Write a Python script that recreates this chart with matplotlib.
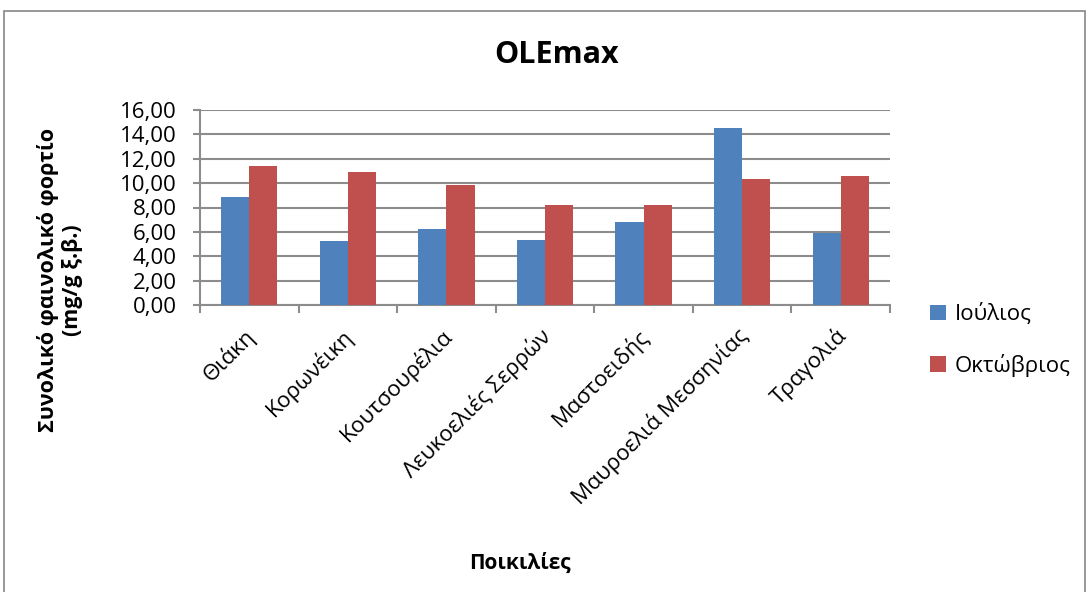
import numpy as np
import matplotlib.pyplot as plt
from matplotlib.patches import Rectangle
from matplotlib.ticker import FuncFormatter

plt.rcParams['font.family'] = ['Open Sans', 'DejaVu Sans']

varieties = ['Θιάκη', 'Κορωνέικη', 'Κουτσουρέλια', 'Λευκοελιές Σερρών',
             'Μαστοειδής', 'Μαυροελιά Μεσσηνίας', 'Τραγολιά']
july = [8.83, 5.25, 6.26, 5.33, 6.81, 14.49, 5.93]
october = [11.40, 10.89, 9.84, 8.23, 8.20, 10.31, 10.61]

fig = plt.figure(figsize=(10.9, 5.92), dpi=100)
ax = fig.add_axes([200/1090, 1 - 305/592, 690/1090, 195/592])

# outer chart frame
fig.patches.append(Rectangle((4/1090, -0.05), 1081/1090, 1 - 11/592 + 0.05,
                             transform=fig.transFigure, fill=False,
                             edgecolor='#868686', linewidth=1.2))

x = np.arange(len(varieties))
w = 0.286
ax.bar(x - w/2, july, w, color='#4F81BD', label='Ιούλιος', zorder=3)
ax.bar(x + w/2, october, w, color='#C0504D', label='Οκτώβριος', zorder=3)

ax.set_xlim(-0.5, len(varieties) - 0.5)
ax.set_ylim(0, 16)
ax.set_yticks(np.arange(0, 17, 2))
ax.yaxis.set_major_formatter(FuncFormatter(lambda v, p: f'{v:.2f}'.replace('.', ',')))
ax.grid(axis='y', color='#8c8c8c', linewidth=1.5, zorder=0)

# category ticks sit between the groups
ax.set_xticks(np.arange(-0.5, len(varieties), 1.0))
ax.set_xticklabels([])
ax.set_xticks(x - 0.06, minor=True)
ax.set_xticklabels(varieties, minor=True, rotation=45, ha='right', va='top',
                   rotation_mode='anchor', fontsize=16)
ax.tick_params(axis='x', which='minor', length=0, pad=14)
ax.tick_params(axis='x', which='major', length=6, color='#8c8c8c', width=1.5)
ax.tick_params(axis='y', length=5, color='#8c8c8c', width=1.5, labelsize=16, pad=12)

for s in ['top', 'right']:
    ax.spines[s].set_visible(False)
for s in ['left', 'bottom']:
    ax.spines[s].set_color('#8c8c8c')
    ax.spines[s].set_linewidth(1.5)

fig.text(557/1090, 1 - 55/592, 'OLEmax', ha='center', va='center',
         fontsize=22, fontweight='bold')
fig.text(60/1090, 1 - 280/592, 'Συνολικό φαινολικό φορτίο\n(mg/g ξ.β.)',
         ha='center', va='center', rotation=90, fontsize=15.5,
         fontweight='bold', linespacing=1.15)
fig.text(520/1090, 1 - 563/592, 'Ποικιλίες', ha='center', va='center',
         fontsize=15, fontweight='bold')

ax.legend(loc='center left', bbox_to_anchor=(930/1090, 1 - 340/592),
          bbox_transform=fig.transFigure, frameon=False, fontsize=16,
          handlelength=0.7, handleheight=0.7, labelspacing=1.3,
          handletextpad=0.4, borderpad=0, borderaxespad=0)

fig.savefig('out.png', dpi=100)
